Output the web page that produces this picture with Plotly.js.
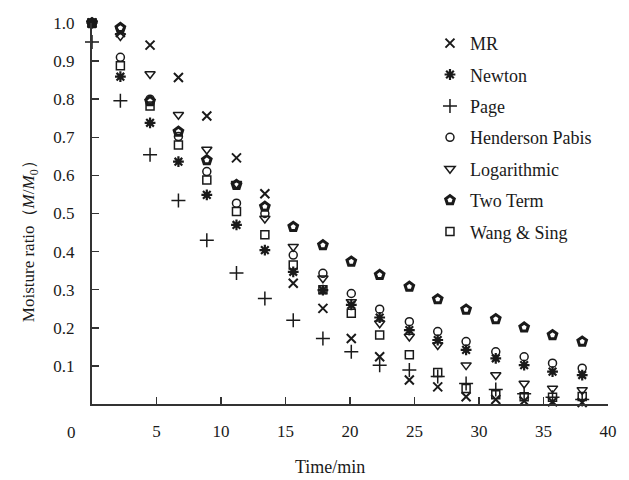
<!DOCTYPE html>
<html>
<head>
<meta charset="utf-8">
<script src="https://cdn.plot.ly/plotly-3.0.1.min.js"></script>
<style>html,body{margin:0;padding:0;background:#fff;}#chart{width:629px;height:480px;}</style>
</head>
<body>
<div id="chart"></div>
<script>
const time = [0, 2.2, 4.5, 6.7, 8.9, 11.2, 13.4, 15.6, 17.9, 20.1, 22.3, 24.6, 26.8, 29.0, 31.3, 33.5, 35.7, 38.0];
const mr = [1.0, 0.975, 0.942, 0.857, 0.756, 0.646, 0.552, 0.317, 0.251, 0.172, 0.124, 0.063, 0.045, 0.019, 0.012, 0.008, 0.006, 0.004];
const newton = [1.0, 0.859, 0.738, 0.636, 0.549, 0.470, 0.404, 0.347, 0.299, 0.260, 0.227, 0.194, 0.168, 0.142, 0.120, 0.102, 0.085, 0.076];
const page = [0.95, 0.796, 0.654, 0.534, 0.430, 0.344, 0.277, 0.220, 0.172, 0.137, 0.102, 0.089, 0.072, 0.054, 0.038, 0.027, 0.018, 0.012];
const henderson = [1.0, 0.91, 0.80, 0.702, 0.610, 0.527, 0.50, 0.391, 0.343, 0.290, 0.249, 0.216, 0.190, 0.164, 0.137, 0.124, 0.107, 0.094];
const logarithmic = [1.0, 0.966, 0.866, 0.759, 0.668, 0.578, 0.487, 0.413, 0.330, 0.268, 0.212, 0.177, 0.155, 0.102, 0.076, 0.054, 0.041, 0.037];
const twoTerm = [1.0, 0.987, 0.795, 0.715, 0.640, 0.575, 0.518, 0.465, 0.417, 0.374, 0.339, 0.308, 0.275, 0.248, 0.223, 0.201, 0.181, 0.164];
const wang = [1.0, 0.888, 0.782, 0.680, 0.588, 0.505, 0.444, 0.365, 0.300, 0.238, 0.181, 0.129, 0.083, 0.041, 0.024, 0.019, 0.018, 0.020];

const seriesNames = ["MR", "Newton", "Page", "Henderson Pabis", "Logarithmic", "Two Term", "Wang &amp; Sing"];
const xTicks = [5, 10, 15, 20, 25, 30, 35, 40];
const yTicks = [0.1, 0.2, 0.3, 0.4, 0.5, 0.6, 0.7, 0.8, 0.9, 1.0];
const yTickText = ["0.1", "0.2", "0.3", "0.4", "0.5", "0.6", "0.7", "0.8", "0.9", "1.0"];

const ink = "#1a1a1a";
const font = "Liberation Serif, Times New Roman, serif";

function tr(name, y, symbol, size, lw, group) {
  return {
    x: time, y: y, name: name, type: "scatter", mode: "markers", cliponaxis: false,
    legendgroup: group,
    marker: {symbol: symbol, size: size, color: ink, line: {color: ink, width: lw}}
  };
}

const data = [
  tr(seriesNames[0], mr, "x-thin-open", 9, 2, "g1"),
  tr(seriesNames[1], newton, "asterisk-open", 9, 2.2, "g2"),
  tr(seriesNames[2], page, "cross-thin-open", 10, 1.5, "g3"),
  tr(seriesNames[3], henderson, "circle-open", 8, 1.5, "g4"),
  tr(seriesNames[4], logarithmic, "triangle-down-open", 9, 1.5, "g5"),
  tr(seriesNames[5], twoTerm, "pentagon-open", 9, 3, "g6"),
  tr(seriesNames[6], wang, "square-open", 8, 1.5, "g7")
];

const layout = {
  width: 629, height: 480,
  margin: {l: 92, r: 21, t: 23, b: 76},
  paper_bgcolor: "#fff", plot_bgcolor: "#fff",
  font: {family: font, size: 17, color: ink},
  showlegend: true,
  legend: {x: 0.655, y: 0.995, xanchor: "left", yanchor: "top", bgcolor: "rgba(0,0,0,0)",
           font: {family: font, size: 18, color: ink}, tracegroupgap: 5, itemsizing: "trace"},
  xaxis: {range: [0, 40], tickvals: xTicks, ticks: "inside", ticklen: 7, tickwidth: 1.5, tickcolor: "#333",
          showline: true, linecolor: "#333", linewidth: 2, showgrid: false, zeroline: false,
          ticklabelstandoff: 11, tickfont: {family: font, size: 17, color: ink}},
  yaxis: {range: [0, 1.0], tickvals: yTicks, ticktext: yTickText, ticks: "inside", ticklen: 7, tickwidth: 1.5, tickcolor: "#333",
          showline: true, linecolor: "#333", linewidth: 2, showgrid: false, zeroline: false,
          ticklabelstandoff: 12, tickfont: {family: font, size: 17, color: ink}},
  annotations: [
    {text: "0", xref: "paper", yref: "paper", x: -0.039, y: -0.076, xanchor: "center", yanchor: "middle", showarrow: false,
     font: {family: font, size: 17, color: ink}},
    {text: "Time/min", xref: "paper", yref: "paper", x: 0.461, y: -0.166, xanchor: "center", yanchor: "middle", showarrow: false,
     font: {family: font, size: 18, color: ink}},
    {text: "Moisture ratio（<i>M</i>/<i>M</i><sub>0</sub>）", xref: "paper", yref: "paper", x: -0.12, y: 0.438, textangle: -90,
     xanchor: "center", yanchor: "middle", showarrow: false, font: {family: font, size: 17, color: ink}}
  ]
};

Plotly.newPlot("chart", data, layout, {displayModeBar: false, staticPlot: true});
</script>
</body>
</html>
